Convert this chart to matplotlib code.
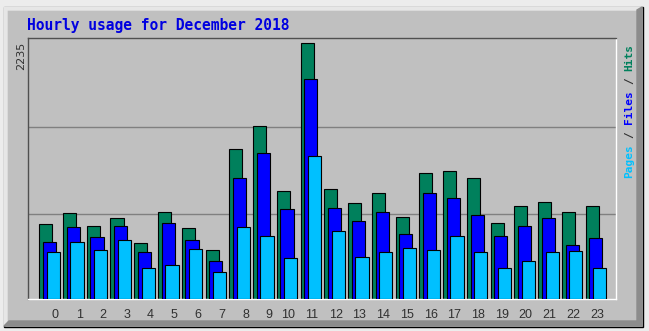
import matplotlib
matplotlib.use('Agg')
import matplotlib.pyplot as plt
from matplotlib.patches import Rectangle, Polygon

# Hourly totals for December 2018
hours = list(range(24))
hits = [653, 750, 639, 706, 486, 762, 618, 431, 1312, 1508, 946, 2235,
        958, 838, 926, 718, 1101, 1122, 1057, 662, 814, 849, 762, 814]
files = [498, 630, 542, 639, 410, 662, 516, 331, 1057, 1277, 782, 1924,
         794, 685, 762, 565, 926, 882, 738, 554, 641, 706, 474, 530]
pages = [410, 498, 431, 516, 275, 299, 439, 234, 630, 554, 354, 1245,
         598, 363, 410, 442, 431, 554, 410, 275, 331, 410, 419, 267]
hour_labels = [str(h) for h in hours]

HITS_COLOR = '#00805c'
FILES_COLOR = '#0000ff'
PAGES_COLOR = '#00c0ff'
PANEL = '#c0c0c0'

fig = plt.figure(figsize=(6.49, 3.31), dpi=100)

# background panel with a bevelled frame, drawn in pixel coordinates
bg = fig.add_axes([0, 0, 1, 1])
bg.set_xlim(0, 649)
bg.set_ylim(331, 0)
bg.axis('off')
bg.add_patch(Rectangle((0, 0), 649, 331, color='#ececec'))
bg.add_patch(Rectangle((3.5, 6.5), 639, 320, facecolor=PANEL,
                       edgecolor='black', lw=1))
bg.add_patch(Polygon([(4, 7), (642, 7), (639, 10), (7, 10), (7, 321), (4, 326)],
                     color='#e6e6e6'))
bg.add_patch(Polygon([(642, 7), (642, 326), (4, 326), (9, 321), (637, 321), (637, 10)],
                     color='#8c8c8c'))

# chart area
ax = fig.add_axes([28 / 649, 1 - 299 / 331, 588 / 649, 261 / 331])
ax.set_facecolor(PANEL)
ymax = 2280
ax.set_xlim(-0.905, 23.85)
ax.set_ylim(0, ymax)

for gy in (740, 1506):
    ax.axhline(gy, color='#808080', lw=1, zorder=0.5)

w = 0.55
off = 0.157
ax.bar([h - off for h in hours], hits, width=w, color=HITS_COLOR,
       edgecolor='black', lw=0.8, zorder=2)
ax.bar(hours, files, width=w, color=FILES_COLOR,
       edgecolor='black', lw=0.8, zorder=3)
ax.bar([h + off for h in hours], pages, width=w, color=PAGES_COLOR,
       edgecolor='black', lw=0.8, zorder=4)

for side in ('top', 'left'):
    ax.spines[side].set_color('#505050')
for side in ('bottom', 'right'):
    ax.spines[side].set_color('white')
for s in ax.spines.values():
    s.set_linewidth(1)

ax.set_yticks([])
ax.set_xticks([h + (0.25 if h < 10 else 0.05) for h in hours])
ax.set_xticklabels(hour_labels, fontsize=9, family='Liberation Sans',
                   color='#303030')
ax.tick_params(axis='x', length=0, pad=7)

# title and max value
fig.text(27 / 649, 1 - 30 / 331, 'Hourly usage for December 2018',
         family='DejaVu Sans Mono', weight='bold', fontsize=10.5,
         color='#0000e0', va='baseline', ha='left')
fig.text(21 / 649, 1 - 42 / 331, str(max(hits)), rotation=90,
         ha='center', va='top', fontsize=8, color='#303030')

# vertical legend: Pages / Files / Hits
char_px = 8 * 100 / 72 * 0.602
start_y = 178
pieces = [('Pages', PAGES_COLOR, 0), ('/', '#303030', 6), ('Files', FILES_COLOR, 8),
          ('/', '#303030', 14), ('Hits', HITS_COLOR, 16)]
for txt, col, idx in pieces:
    y = start_y - idx * char_px
    fig.text(629 / 649, 1 - y / 331, txt, rotation=90, ha='center', va='bottom',
             family='DejaVu Sans Mono', weight='bold', fontsize=8, color=col)

fig.savefig('out.png', dpi=100)
